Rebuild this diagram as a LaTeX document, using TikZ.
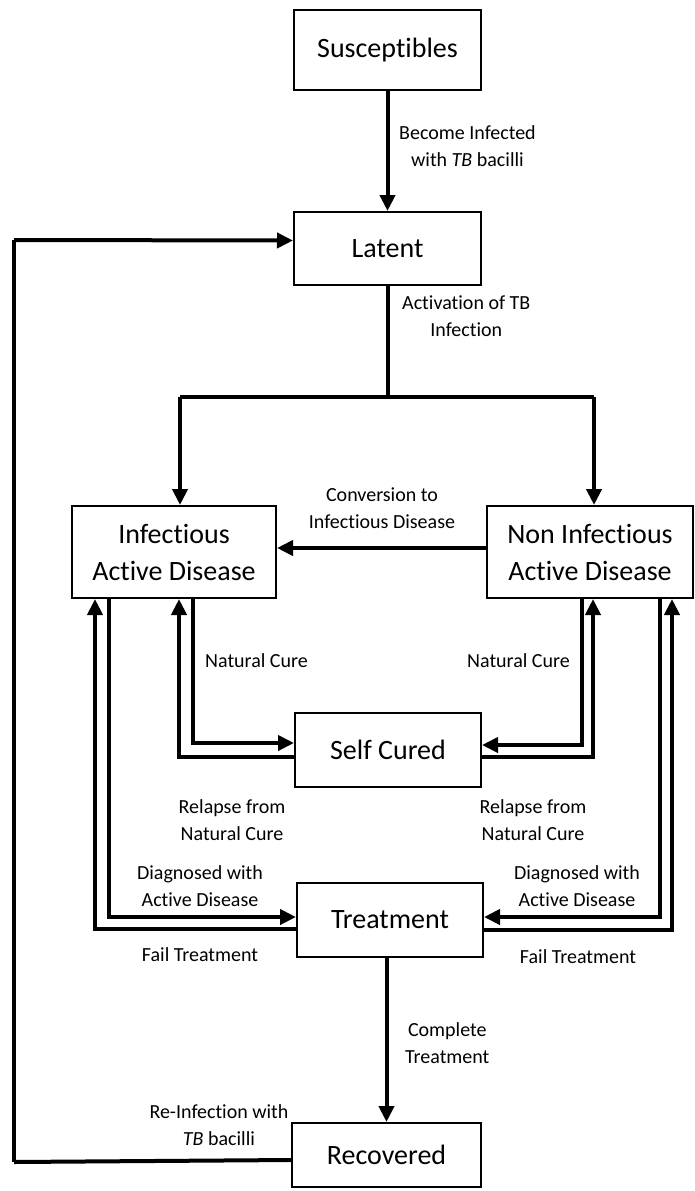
\documentclass[tikz,border=0pt]{standalone}
\usepackage{fontspec}
\setmainfont{Carlito}[Ligatures={NoCommon}]
\usetikzlibrary{arrows.meta}
\begin{document}
\begin{tikzpicture}[x=1pt,y=-1pt,
  box/.style={draw,line width=2pt,inner sep=0pt,align=center,font=\fontsize{28}{37}\selectfont},
  lbl/.style={inner sep=0pt,align=center,font=\fontsize{20}{27}\selectfont},
  conn/.style={line width=4pt},
  arr/.style={line width=4pt,-{Triangle[width=15pt,length=16pt]}}]
\useasboundingbox (0,0) rectangle (694,1191);
% boxes
\node[box,minimum width=187pt,minimum height=80pt] (sus) at (387.5,50) {Susceptibles};
\node[box,minimum width=187pt,minimum height=73pt] (lat) at (387.5,248.5) {Latent};
\node[box,minimum width=204pt,minimum height=92pt] (inf) at (174,552) {Infectious\\Active Disease};
\node[box,minimum width=206pt,minimum height=92pt] (ni) at (590,552) {Non Infectious\\Active Disease};
\node[box,minimum width=186pt,minimum height=74pt] (self) at (388,750) {Self Cured};
\node[box,minimum width=186pt,minimum height=74pt] (treat) at (390,920) {Treatment};
\node[box,minimum width=189pt,minimum height=64pt] (rec) at (386.5,1155) {Recovered};
% coordinates
\coordinate (split) at (387.5,397);
\coordinate (splitL) at (180,397);
\coordinate (splitR) at (594,397);
\coordinate (latin) at ([yshift=8pt]lat.west);
\coordinate (recout) at ([yshift=-5pt]rec.west);
\coordinate (farL) at (14,1162);
\coordinate (farLtop) at (14,240);
% connectors
\draw[arr] (sus.south) -- (lat.north);
\draw[conn] (lat.south) -- (split);
\draw[conn] (splitL) -- (splitR);
\draw[arr] (splitL) -- (splitL |- inf.north);
\draw[arr] (splitR) -- (splitR |- ni.north);
\draw[arr] ([yshift=4pt]ni.west) -- ([yshift=4pt]inf.east);
% self cured
\draw[arr] ([xshift=19pt]inf.south) |- ([yshift=7pt]self.west);
\draw[arr] ([yshift=-7pt]self.west) -| ([xshift=5pt]inf.south);
\draw[arr] ([xshift=-8pt]ni.south) |- ([yshift=5pt]self.east);
\draw[arr] ([yshift=-7pt]self.east) -| ([xshift=3pt]ni.south);
% treatment
\draw[arr] ([xshift=-65pt]inf.south) |- ([yshift=3pt]treat.west);
\draw[arr] ([yshift=-9pt]treat.west) -| ([xshift=-79pt]inf.south);
\draw[arr] ([xshift=70pt]ni.south) |- ([yshift=3pt]treat.east);
\draw[arr] ([yshift=-10pt]treat.east) -| ([xshift=82pt]ni.south);
% recovered
\draw[arr] (treat.south -| rec.north) -- (rec.north);
\draw[conn] (recout) -- (farL);
\draw[conn] (farL) -- (farLtop);
\draw[arr] (farLtop) -- (latin);
% labels
\node[lbl,anchor=west] (l1) at (399,146) {Become Infected\\with \textit{TB} bacilli};
\node[lbl,anchor=west] (l2) at (402,316) {Activation of TB\\Infection};
\node[lbl] (l3) at (382,508) {Conversion to\\Infectious Disease};
\node[lbl,anchor=west] (l4) at (205,661) {Natural Cure};
\node[lbl,anchor=east] (l5) at (570,661) {Natural Cure};
\node[lbl] (l6) at (232,820) {Relapse from\\Natural Cure};
\node[lbl] (l7) at (533,820) {Relapse from\\Natural Cure};
\node[lbl] (l8) at (200,886) {Diagnosed with\\Active Disease};
\node[lbl] (l9) at (577,886) {Diagnosed with\\Active Disease};
\node[lbl] (l10) at (200,955) {Fail Treatment};
\node[lbl] (l11) at (578,957) {Fail Treatment};
\node[lbl,anchor=west] (l12) at (405,1043) {Complete\\Treatment};
\node[lbl] (l13) at (219,1125) {Re-Infection with\\\textit{TB} bacilli};
\end{tikzpicture}
\end{document}
